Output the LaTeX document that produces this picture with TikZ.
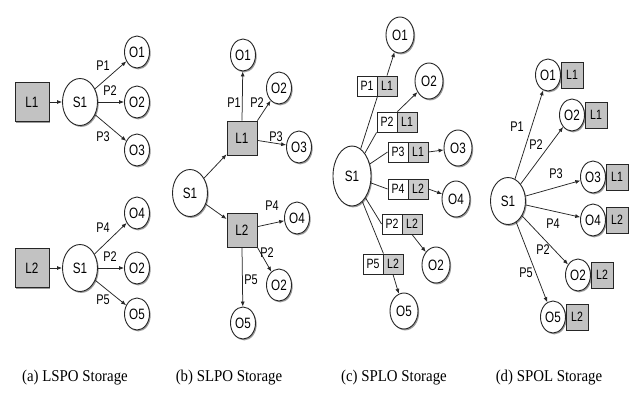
\documentclass[tikz,border=0pt]{standalone}
\usepackage{fontspec}
\setmainfont{Liberation Serif}[FakeStretch=0.9]
\newfontfamily\labfont{Liberation Sans}[FakeStretch=0.78]
\usetikzlibrary{shapes.geometric,shadows,arrows.meta}
\definecolor{lgray}{HTML}{C2C2C2}
\definecolor{edgec}{HTML}{262626}
\begin{document}
\begin{tikzpicture}[x=1pt,y=-1pt,
  shad/.style={drop shadow={shadow xshift=1.2pt,shadow yshift=-1.4pt,fill=black!65,opacity=0.6}},
  base/.style={draw=edgec,line width=0.9pt,inner sep=0pt,font=\labfont\fontsize{15}{15}\selectfont,shad},
  onode/.style={base,ellipse,fill=white,minimum width=25pt,minimum height=32pt},
  bigo/.style={base,ellipse,fill=white,minimum width=28pt,minimum height=36pt},
  snode/.style={base,ellipse,fill=white,minimum width=35pt,minimum height=47pt},
  bigs/.style={base,ellipse,fill=white,minimum width=38pt,minimum height=60pt},
  lbox/.style={base,rectangle,fill=lgray,minimum width=34pt,minimum height=39pt},
  mbox/.style={base,rectangle,fill=lgray,minimum width=30pt,minimum height=34pt},
  sbox/.style={base,rectangle,fill=lgray,minimum width=22pt,minimum height=26pt,font=\labfont\fontsize{13.5}{13.5}\selectfont},
  pcell/.style={base,rectangle,fill=white,minimum width=20pt,minimum height=20pt,font=\labfont\fontsize{13.5}{13.5}\selectfont},
  lcell/.style={base,rectangle,fill=lgray!85,minimum width=20pt,minimum height=20pt,font=\labfont\fontsize{13.5}{13.5}\selectfont},
  arr/.style={draw=edgec,line width=0.75pt,-{Latex[length=5pt,width=4pt]}},
  ln/.style={draw=edgec,line width=0.75pt},
  lab/.style={inner sep=0.5pt,font=\labfont\fontsize{14}{14}\selectfont},
  captxt/.style={inner sep=0pt,font=\fontsize{16.5}{16.5}\selectfont}]
\useasboundingbox[fill=white] (0,0) rectangle (633,392);

% ---------- (a) LSPO ----------
\node[lbox] (aL1) at (32,102) {L1};
\node[snode] (aS1) at (80,102) {S1};
\node[onode] (aO1) at (137,52) {O1};
\node[onode] (aO2) at (137,102) {O2};
\node[onode] (aO3) at (137,150) {O3};
\draw[arr] (aL1) -- (aS1);
\draw[arr] (aS1) -- (aO1);
\draw[arr] (aS1) -- (aO2);
\draw[arr] (aS1) -- (aO3);
\node[lab] (aP1) at (103,66) {P1};
\node[lab] (aP2) at (110,91) {P2};
\node[lab] (aP3) at (103,137) {P3};

\node[lbox] (aL2) at (32,268) {L2};
\node[snode] (aS2) at (80,268) {S1};
\node[onode] (aO4) at (137,213) {O4};
\node[onode] (aO2b) at (137,268) {O2};
\node[onode] (aO5) at (137,314) {O5};
\draw[arr] (aL2) -- (aS2);
\draw[arr] (aS2) -- (aO4);
\draw[arr] (aS2) -- (aO2b);
\draw[arr] (aS2) -- (aO5);
\node[lab] (aP4) at (103,228) {P4};
\node[lab] (aP2b) at (110,257) {P2};
\node[lab] (aP5) at (103,300) {P5};

% ---------- (b) SLPO ----------
\node[snode] (bS1) at (190,193) {S1};
\node[mbox] (bL1) at (242,138) {L1};
\node[mbox] (bL2) at (242,230) {L2};
\node[onode] (bO1) at (243,55) {O1};
\node[onode] (bO2) at (279,88) {O2};
\node[onode] (bO3) at (299,147) {O3};
\node[onode] (bO4) at (297,218) {O4};
\node[onode] (bO2b) at (279,285) {O2};
\node[onode] (bO5) at (243,323) {O5};
\draw[arr] (bS1) -- (bL1);
\draw[arr] (bS1) -- (bL2);
\draw[arr] (bL1.north) -- (bO1);
\draw[arr] (bL1.north east) -- (bO2);
\draw[arr] (bL1) -- (bO3);
\draw[arr] (bL2) -- (bO4);
\draw[arr] (bL2.south east) -- (bO2b);
\draw[arr] (bL2.south) -- (bO5);
\node[lab] (bP1) at (234,103) {P1};
\node[lab] (bP2) at (257,103) {P2};
\node[lab] (bP3) at (276,137) {P3};
\node[lab] (bP4) at (272,206) {P4};
\node[lab] (bP2b) at (267,253) {P2};
\node[lab] (bP5) at (251,280) {P5};

% ---------- (c) SPLO ----------
\node[bigs] (cS1) at (352,176) {S1};
\node[bigo] (cO1) at (400,35) {O1};
\node[bigo] (cO2) at (429,81) {O2};
\node[bigo] (cO3) at (458,148) {O3};
\node[bigo] (cO4) at (456,199) {O4};
\node[bigo] (cO2b) at (436,265) {O2};
\node[bigo] (cO5) at (404,311) {O5};
\node[pcell] (c1p) at (367,86) {P1};
\node[lcell] (c1l) at (387,86) {L1};
\node[pcell] (c2p) at (387,122) {P2};
\node[lcell] (c2l) at (407,122) {L1};
\node[pcell] (c3p) at (398,152) {P3};
\node[lcell] (c3l) at (418,152) {L1};
\node[pcell] (c4p) at (398,189) {P4};
\node[lcell] (c4l) at (418,189) {L2};
\node[pcell] (c5p) at (392,224) {P2};
\node[lcell] (c5l) at (412,224) {L2};
\node[pcell] (c6p) at (373,264) {P5};
\node[lcell] (c6l) at (393,264) {L2};
\draw[ln] (cS1) -- (c1p.south east);
\draw[ln] (cS1) -- (c2p.south west);
\draw[ln] (cS1) -- (c3p.west);
\draw[ln] (cS1) -- (c4p.west);
\draw[ln] (cS1) -- (c5p.west);
\draw[ln] (cS1) -- (c6p.north east);
\draw[arr] (c1l.north) -- (cO1);
\draw[arr] (c2p.north east) -- (cO2);
\draw[arr] (c3l.east) -- (cO3);
\draw[arr] (c4l.east) -- (cO4);
\draw[arr] (c5l.south) -- (cO2b);
\draw[arr] (c6l.south) -- (cO5);

% ---------- (d) SPOL ----------
\node[snode] (dS1) at (508,201) {S1};
\node[onode] (dO1) at (548,75) {O1};
\node[sbox] (dL1) at (572,75) {L1};
\node[onode] (dO2) at (572,115) {O2};
\node[sbox] (dL2) at (596,115) {L1};
\node[onode] (dO3) at (593,177) {O3};
\node[sbox] (dL3) at (617,177) {L1};
\node[onode] (dO4) at (593,220) {O4};
\node[sbox] (dL4) at (617,220) {L2};
\node[onode] (dO2b) at (578,275) {O2};
\node[sbox] (dL5) at (602,275) {L2};
\node[onode] (dO5) at (553,317) {O5};
\node[sbox] (dL6) at (577,317) {L2};
\draw[arr] (dS1) -- (dO1);
\draw[arr] (dS1) -- (dO2);
\draw[arr] (dS1) -- (dO3);
\draw[arr] (dS1) -- (dO4);
\draw[arr] (dS1) -- (dO2b);
\draw[arr] (dS1) -- (dO5);
\node[lab] (dP1) at (517,127) {P1};
\node[lab] (dP2) at (536,145) {P2};
\node[lab] (dP3) at (556,174) {P3};
\node[lab] (dP4) at (553,224) {P4};
\node[lab] (dP2b) at (543,250) {P2};
\node[lab] (dP5) at (526,273) {P5};

% ---------- captions ----------
\node[captxt] (capa) at (75,378) {(a) LSPO Storage};
\node[captxt] (capb) at (229,378) {(b) SLPO Storage};
\node[captxt] (capc) at (394,378) {(c) SPLO Storage};
\node[captxt] (capd) at (549,378) {(d) SPOL Storage};
\end{tikzpicture}
\end{document}
